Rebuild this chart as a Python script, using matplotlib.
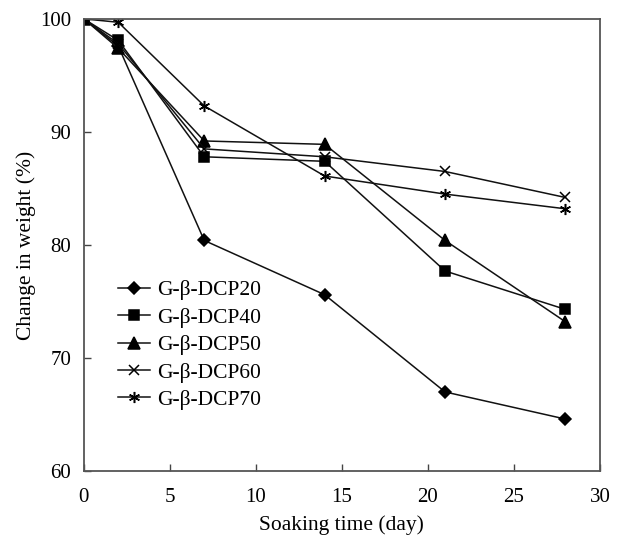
import matplotlib
matplotlib.use("Agg")
import matplotlib.pyplot as plt

plt.rcParams['font.family'] = ['Liberation Serif', 'DejaVu Serif']

days = [0, 2, 7, 14, 21, 28]
dcp20 = [100, 97.6, 80.4, 75.6, 67.0, 64.6]
dcp40 = [100, 98.1, 87.8, 87.4, 77.7, 74.3]
dcp50 = [100, 97.4, 89.2, 88.9, 80.4, 73.2]
dcp60 = [100, 97.8, 88.5, 87.8, 86.5, 84.2]
dcp70 = [100, 99.7, 92.3, 86.1, 84.5, 83.2]
labels = ["G-β-DCP20", "G-β-DCP40", "G-β-DCP50", "G-β-DCP60", "G-β-DCP70"]

fig = plt.figure(figsize=(6.21, 5.39), dpi=100)
ax = fig.add_axes([0.135, 0.126, 0.831, 0.839])

styles = [("D", 6.5), ("s", 7.5), ("^", 8), ("x", 7), ((6, 2, 0), 8)]
for ys, lab, (m, ms) in zip([dcp20, dcp40, dcp50, dcp60, dcp70], labels, styles):
    ax.plot(days, ys, color="#111111", lw=1.1, marker=m, ms=ms, mew=1.1,
            mfc="black", mec="black", label=lab)

ax.set_xlim(0, 30); ax.set_ylim(60, 100)
ax.set_xticks(range(0, 31, 5)); ax.set_yticks(range(60, 101, 10))
ax.tick_params(direction="in", length=5, labelsize=15, width=1, color="#444444")
ax.tick_params(axis="x", pad=12)
ax.tick_params(axis="y", pad=9)
for s in ax.spines.values():
    s.set_color("#555555"); s.set_linewidth(1.3)
ax.set_xlabel("Soaking time (day)", fontsize=15.5, labelpad=6)
ax.set_ylabel("Change in weight (%)", fontsize=15.5, labelpad=3)
ax.legend(loc="upper left", bbox_to_anchor=(0.037, 0.455), frameon=False, fontsize=15.5,
          handlelength=1.5, handletextpad=0.33, labelspacing=0.34, borderpad=0.2)
fig.savefig("out.png", dpi=100)
